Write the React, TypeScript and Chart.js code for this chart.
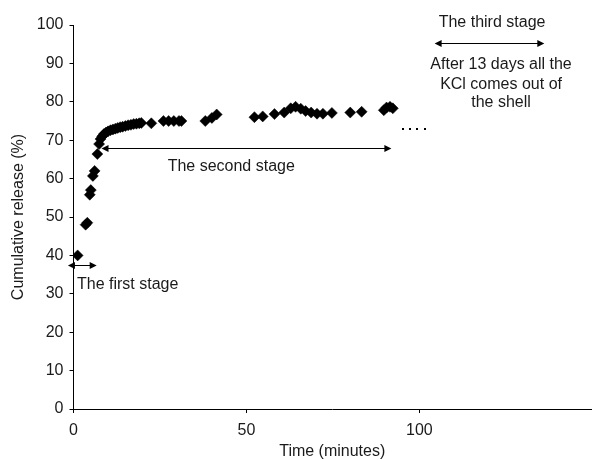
import React, { useEffect, useRef } from "react";
import { Chart, registerables } from "chart.js";

Chart.register(...registerables);

// Time (minutes)
const times = [
  1.2, 3.5, 4.0, 4.7, 5.0, 5.6, 6.1, 6.9, 7.4, 7.8, 8.3, 8.8, 9.4, 10.0, 10.7,
  11.4, 12.1, 12.8, 13.5, 14.2, 15.0, 15.8, 16.6, 17.4, 18.2, 19.0, 19.6, 22.5,
  26.0, 27.5, 29.0, 30.5, 31.2, 38.1, 40.0, 41.4, 52.3, 54.7, 58.1, 60.9, 62.8,
  64.2, 65.7, 67.1, 68.7, 70.4, 72.1, 74.7, 80.0, 83.3, 89.7, 90.5, 91.5, 92.3,
];
// Cumulative release (%)
const release = [
  40.0, 48.0, 48.5, 55.8, 57.0, 60.7, 62.0, 66.4, 69.0, 70.3, 71.0, 71.6, 72.0,
  72.3, 72.6, 72.8, 73.0, 73.2, 73.4, 73.5, 73.7, 73.9, 74.0, 74.2, 74.3, 74.4,
  74.5, 74.4, 75.0, 75.0, 75.0, 75.0, 75.0, 75.0, 75.8, 76.7, 76.0, 76.2, 76.8,
  77.2, 78.3, 78.7, 78.2, 77.6, 77.2, 76.9, 76.9, 77.1, 77.2, 77.4, 77.8, 78.5,
  78.7, 78.3,
];

const xTickValues = [0, 50, 100];
const xMin = 0;
const xMax = 149.6;
const yMin = 0;
const yMax = 100;
const yStep = 10;

const xTitle = "Time (minutes)";
const yTitle = "Cumulative release (%)";

// Annotation texts and their anchors in data units
const firstStage = { text: "The first stage", x: 1.0, y: 32.3, from: -1.6, to: 6.7, arrowY: 37.4 };
const secondStage = { text: "The second stage", x: 45.6, y: 63, from: 8.1, to: 91.9, arrowY: 68 };
const thirdStage = { text: "The third stage", x: 121, y: 100.7, from: 104.4, to: 136.1, arrowY: 95.2 };
const thirdNote = ["After 13 days all the", "KCl comes out of", "the shell"];
const thirdNoteX = 123.6;
const thirdNoteY = [89.7, 84.5, 79.7];
const ellipsisX = [95.2, 97.3, 99.4, 101.5];
const ellipsisY = 72.8;

const FAMILY = '"Liberation Sans", Arial, sans-serif';
const FONT = '16px ' + FAMILY;
const TEXT = "#1a1a1a";

function arrow(ctx: CanvasRenderingContext2D, x1: number, x2: number, y: number) {
  const h = 7;
  const w = 3.5;
  ctx.beginPath();
  ctx.moveTo(x1 + 2, y);
  ctx.lineTo(x2 - 2, y);
  ctx.stroke();
  ctx.beginPath();
  ctx.moveTo(x1, y);
  ctx.lineTo(x1 + h, y - w);
  ctx.lineTo(x1 + h, y + w);
  ctx.closePath();
  ctx.fill();
  ctx.beginPath();
  ctx.moveTo(x2, y);
  ctx.lineTo(x2 - h, y - w);
  ctx.lineTo(x2 - h, y + w);
  ctx.closePath();
  ctx.fill();
}

const annotationPlugin = {
  id: "stageAnnotations",
  afterDraw(chart: any) {
    const { ctx, scales } = chart;
    const sx = scales.x;
    const sy = scales.y;
    ctx.save();
    ctx.font = FONT;
    ctx.fillStyle = TEXT;
    ctx.strokeStyle = "#000";
    ctx.lineWidth = 1;
    ctx.textBaseline = "middle";

    // first stage
    ctx.fillStyle = "#000";
    arrow(ctx, sx.getPixelForValue(firstStage.from), sx.getPixelForValue(firstStage.to), Math.round(sy.getPixelForValue(firstStage.arrowY)) + 0.5);
    ctx.fillStyle = TEXT;
    ctx.textAlign = "left";
    ctx.fillText(firstStage.text, sx.getPixelForValue(firstStage.x), sy.getPixelForValue(firstStage.y));

    // second stage
    ctx.fillStyle = "#000";
    arrow(ctx, sx.getPixelForValue(secondStage.from), sx.getPixelForValue(secondStage.to), Math.round(sy.getPixelForValue(secondStage.arrowY)) + 0.5);
    ctx.fillStyle = TEXT;
    ctx.textAlign = "center";
    ctx.fillText(secondStage.text, sx.getPixelForValue(secondStage.x), sy.getPixelForValue(secondStage.y));

    // third stage
    ctx.fillText(thirdStage.text, sx.getPixelForValue(thirdStage.x), sy.getPixelForValue(thirdStage.y));
    ctx.fillStyle = "#000";
    arrow(ctx, sx.getPixelForValue(thirdStage.from), sx.getPixelForValue(thirdStage.to), Math.round(sy.getPixelForValue(thirdStage.arrowY)) + 0.5);
    ctx.fillStyle = TEXT;
    thirdNote.forEach((line, i) => {
      ctx.fillText(line, sx.getPixelForValue(thirdNoteX), sy.getPixelForValue(thirdNoteY[i]));
    });

    // ellipsis dots
    ctx.fillStyle = "#000";
    ellipsisX.forEach((v) => {
      const px = sx.getPixelForValue(v);
      const py = sy.getPixelForValue(ellipsisY);
      ctx.fillRect(Math.round(px) - 1, Math.round(py) - 1, 2, 2);
    });
    ctx.restore();
  },
};

export default function App() {
  const ref = useRef<HTMLCanvasElement>(null);

  useEffect(() => {
    if (!ref.current) return;
    const chart = new Chart(ref.current, {
      type: "scatter",
      data: {
        datasets: [
          {
            data: times.map((t, i) => ({ x: t, y: release[i] })),
            pointStyle: "rectRot",
            pointRadius: 5.5,
            pointBorderWidth: 0.5,
            backgroundColor: "#000",
            borderColor: "#000",
          },
        ],
      },
      options: {
        animation: false,
        responsive: true,
        maintainAspectRatio: false,
        layout: { padding: { top: 25, left: 0, right: 0, bottom: 0 } },
        plugins: {
          legend: { display: false },
          tooltip: { enabled: false },
        },
        scales: {
          x: {
            type: "linear",
            min: xMin,
            max: xMax,
            afterBuildTicks: (s: any) => {
              s.ticks = xTickValues.map((value) => ({ value }));
            },
            afterFit: (s: any) => {
              s.height = 51;
            },
            ticks: {
              font: { family: FAMILY, size: 16 },
              color: TEXT,
              padding: 8,
              maxRotation: 0,
            },
            grid: { drawOnChartArea: false, tickLength: 4, color: "#000", tickColor: "#000" },
            border: { color: "#000", width: 1 },
            title: {
              display: true,
              text: xTitle,
              font: { family: FAMILY, size: 16, lineHeight: 1 },
              color: TEXT,
              padding: { top: 0, bottom: 0 },
            },
          },
          y: {
            type: "linear",
            min: yMin,
            max: yMax,
            afterFit: (s: any) => {
              s.width = 73.5;
            },
            ticks: {
              stepSize: yStep,
              font: { family: FAMILY, size: 16 },
              color: TEXT,
              padding: 6,
            },
            grid: { drawOnChartArea: false, tickLength: 4, color: "#000", tickColor: "#000" },
            border: { color: "#000", width: 1 },
            title: {
              display: true,
              text: yTitle,
              font: { family: FAMILY, size: 16, lineHeight: 1 },
              color: TEXT,
              padding: { top: 11, bottom: 0 },
            },
          },
        },
      },
      plugins: [annotationPlugin],
    });
    return () => chart.destroy();
  }, []);

  return (
    <div style={{ position: "fixed", left: 0, top: 0, width: 597, height: 460, background: "#fff" }}>
      <canvas ref={ref} />
    </div>
  );
}
